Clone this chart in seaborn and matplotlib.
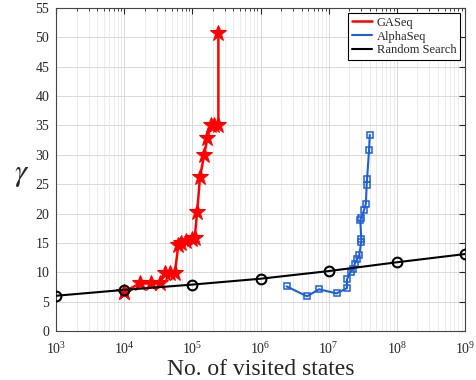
import numpy as np
import pandas as pd
import matplotlib
matplotlib.use("Agg")
import matplotlib.pyplot as plt
import matplotlib.ticker as mticker
import seaborn as sns

# GASeq (red stars)
ga_x = [1.0e4, 1.0e4, 1.7e4, 2.5e4, 3.3e4, 3.9e4, 4.7e4, 5.5e4, 6.2e4, 6.9e4, 8.1e4,
        9.7e4, 1.08e5, 1.17e5, 1.29e5, 1.48e5, 1.66e5, 1.84e5, 2.1e5, 2.4e5, 2.4e5]
ga_y = [6.7, 6.7, 8.1, 8.1, 8.1, 9.8, 9.8, 9.8, 14.6, 14.9, 15.3,
        15.6, 15.9, 20.2, 26.2, 29.9, 32.9, 35.1, 35.1, 35.1, 50.8]

# AlphaSeq (blue squares)
alpha_x = [2.4e6, 4.8e6, 7.2e6, 1.3e7, 1.85e7, 1.85e7, 2.1e7, 2.25e7, 2.4e7, 2.6e7,
           2.8e7, 3.0e7, 3.0e7, 2.9e7, 3.0e7, 3.3e7, 3.5e7, 3.6e7, 3.65e7, 3.9e7, 4.0e7]
alpha_y = [7.6, 5.9, 7.1, 6.4, 7.3, 8.8, 10.1, 10.5, 11.4, 12.2,
           12.9, 15.2, 15.7, 18.9, 19.3, 20.6, 21.7, 24.8, 25.9, 30.8, 33.4]

# Random search (black circles)
rand_x = [1e3, 1e4, 1e5, 1e6, 1e7, 1e8, 1e9]
rand_y = [6.0, 7.0, 7.9, 8.9, 10.2, 11.7, 13.1]

sns.set_style("white")
plt.rcParams["font.family"] = ["Liberation Serif", "DejaVu Serif"]
plt.rcParams["mathtext.fontset"] = "stix"

fig = plt.figure(figsize=(4.76, 3.8), dpi=100)
ax = fig.add_axes([0.118, 0.129, 0.859, 0.850])

sns.lineplot(x=ga_x, y=ga_y, ax=ax, sort=False, estimator=None, color="#ff0000",
             marker="*", markersize=12, markeredgecolor="#ff0000", linewidth=1.8,
             label="GASeq", zorder=3)
sns.lineplot(x=alpha_x, y=alpha_y, ax=ax, sort=False, estimator=None, color="#1f5fd6",
             marker="s", markersize=5, markerfacecolor="none", markeredgecolor="#1f5fd6",
             markeredgewidth=1.1, linewidth=1.5, label="AlphaSeq", zorder=3)
sns.lineplot(x=rand_x, y=rand_y, ax=ax, sort=False, estimator=None, color="black",
             marker="o", markersize=7, markerfacecolor="none", markeredgecolor="black",
             markeredgewidth=1.5, linewidth=1.5, label="Random Search", zorder=4)

ax.set_xscale("log")
ax.set_xlim(1e3, 1e9)
ax.set_ylim(0, 55)
ax.set_yticks(np.arange(0, 56, 5))
ax.xaxis.set_major_locator(mticker.LogLocator(base=10, numticks=10))
ax.xaxis.set_minor_locator(mticker.LogLocator(base=10, subs=np.arange(2, 10), numticks=100))
ax.xaxis.set_minor_formatter(mticker.NullFormatter())

ax.grid(True, which="major", color="#d9d9d9", linewidth=0.7)
ax.grid(True, which="minor", axis="x", color="#e3e3e3", linewidth=0.5)
ax.tick_params(which="both", direction="in", top=True, right=True, labelsize=10)
ax.tick_params(which="major", length=4)
ax.tick_params(which="minor", length=2)
ax.tick_params(axis="x", which="major", pad=7)
ax.tick_params(axis="y", which="major", pad=5)
for s in ax.spines.values():
    s.set_color("#444444")
    s.set_linewidth(0.8)

ax.set_xlabel("No. of visited states", fontsize=17, labelpad=2)
ax.set_ylabel(r"$\gamma$", fontsize=22, rotation=0)
ax.yaxis.set_label_coords(-0.085, 0.44)

leg = ax.legend(loc="upper right", fontsize=9, frameon=True, fancybox=False,
                edgecolor="black", borderpad=0.3, labelspacing=0.15, handlelength=1.6,
                handletextpad=0.4, borderaxespad=0.4, framealpha=1)
leg.get_frame().set_linewidth(0.8)
for h in leg.legend_handles:
    h.set_marker("")

fig.savefig("out.png", dpi=100)
